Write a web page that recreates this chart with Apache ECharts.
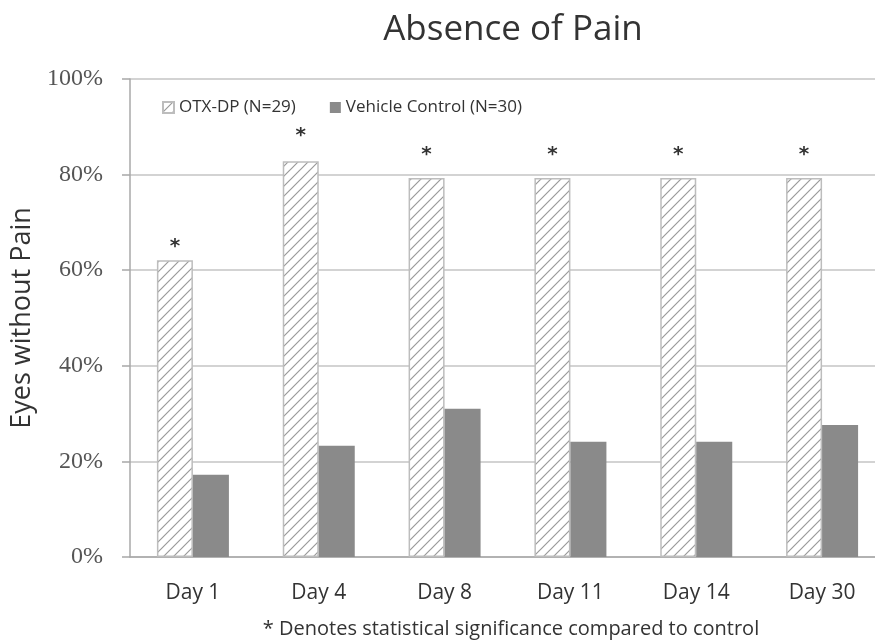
<!DOCTYPE html>
<html>
<head>
<meta charset="utf-8">
<script src="https://cdn.jsdelivr.net/npm/echarts@6/dist/echarts.min.js"></script>
<style>html,body{margin:0;padding:0;background:#fff;overflow:hidden;width:875px;height:644px}#c{width:890px;height:644px}</style>
</head>
<body>
<div id="c"></div>
<script>
const categories = ['Day 1', 'Day 4', 'Day 8', 'Day 11', 'Day 14', 'Day 30'];
const otxValues = [62.1, 82.8, 79.3, 79.3, 79.3, 79.3];
const vehicleValues = [17.2, 23.3, 31.0, 24.1, 24.1, 27.6];
const sigMarks = ['*', '*', '*', '*', '*', '*'];
const yTicks = [0, 20, 40, 60, 80, 100];
const seriesNames = ['OTX-DP (N=29)', 'Vehicle Control (N=30)'];
const titleText = 'Absence of Pain';
const yAxisTitle = 'Eyes without Pain';
const footnote = '* Denotes statistical significance compared to control';
const starGap = [3, 15, 13, 13, 13, 13];

function hatch() {
  const s = 10;
  const c = document.createElement('canvas');
  c.width = s; c.height = s;
  const g = c.getContext('2d');
  g.fillStyle = '#ffffff';
  g.fillRect(0, 0, s, s);
  g.strokeStyle = '#9a9a9a';
  g.lineWidth = 1.2;
  g.beginPath();
  g.moveTo(-1, s + 1); g.lineTo(s + 1, -1);
  g.moveTo(-1, 1); g.lineTo(1, -1);
  g.moveTo(s - 1, s + 1); g.lineTo(s + 1, s - 1);
  g.stroke();
  return c;
}

const chart = echarts.init(document.getElementById('c'));
chart.setOption({
  animation: false,
  backgroundColor: '#fff',
  title: [
    { text: titleText, left: 508, textAlign: 'center', top: 8,
      textStyle: { fontFamily: 'Open Sans', fontSize: 35, fontWeight: 'normal', color: '#333' } },
    { text: footnote, left: 506, textAlign: 'center', top: 614,
      textStyle: { fontFamily: 'Open Sans', fontSize: 20, fontWeight: 'normal', color: '#333' } }
  ],
  legend: {
    left: 157, top: 94, itemWidth: 11, itemHeight: 11, itemGap: 34,
    icon: 'rect',
    textStyle: { fontFamily: 'Open Sans', fontSize: 17, color: '#333' },
    data: seriesNames
  },
  grid: { left: 130, top: 79, width: 755, height: 478, containLabel: false },
  xAxis: {
    type: 'category', data: categories,
    axisLine: { lineStyle: { color: '#a8a8a8', width: 1.5 } },
    axisTick: { show: false },
    axisLabel: { margin: 26, fontFamily: 'Open Sans', fontSize: 21, color: '#333' }
  },
  yAxis: {
    type: 'value', min: yTicks[0], max: yTicks[yTicks.length - 1], interval: 20,
    name: yAxisTitle, nameLocation: 'middle', nameGap: 90,
    nameTextStyle: { fontFamily: 'Open Sans', fontSize: 27, color: '#333' },
    axisLine: { show: true, lineStyle: { color: '#a8a8a8', width: 1.5 } },
    axisTick: { show: true, length: 8, lineStyle: { color: '#a8a8a8', width: 1.5 } },
    axisLabel: { margin: 27, fontFamily: 'Liberation Serif', fontSize: 24, color: '#555', formatter: '{value}%' },
    splitLine: { lineStyle: { color: '#c4c4c4', width: 1.5 } }
  },
  series: [
    {
      name: seriesNames[0], type: 'bar', barWidth: 36, barGap: '0%',
      itemStyle: { color: { image: hatch(), repeat: 'repeat' }, borderColor: '#bdbdbd', borderWidth: 1.5 },
      data: otxValues.map((v, i) => ({
        value: v,
        label: { show: true, position: 'top', distance: starGap[i], formatter: sigMarks[i],
          fontFamily: 'DejaVu Sans', fontWeight: 'bold', fontSize: 20, color: '#333' }
      }))
    },
    {
      name: seriesNames[1], type: 'bar', barWidth: 36, barGap: '0%',
      itemStyle: { color: '#8a8a8a' },
      data: vehicleValues
    }
  ]
});
</script>
</body>
</html>
